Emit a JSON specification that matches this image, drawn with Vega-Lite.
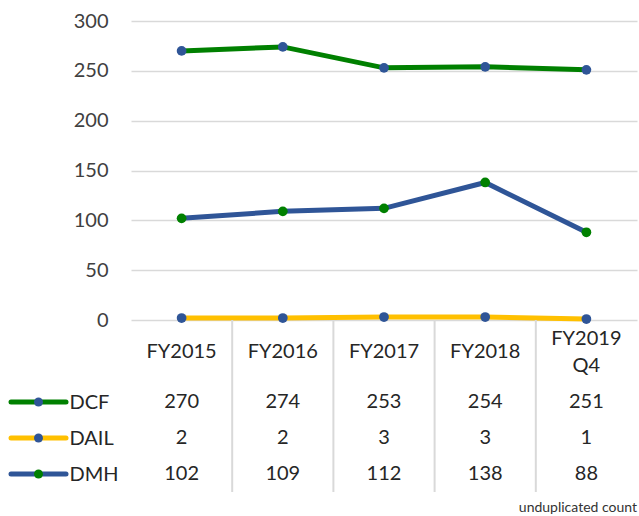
{
  "$schema": "https://vega.github.io/schema/vega-lite/v6.json",
  "padding": {"left": 8, "top": 11, "right": 3, "bottom": 2},
  "autosize": {"type": "pad"},
  "background": "white",
  "config": {"view": {"stroke": null}, "font": "Lato", "text": {"font": "Lato"}},
  "datasets": {
    "vals": [
      {"year": "FY2015", "series": "DCF", "value": 270},
      {"year": "FY2016", "series": "DCF", "value": 274},
      {"year": "FY2017", "series": "DCF", "value": 253},
      {"year": "FY2018", "series": "DCF", "value": 254},
      {"year": "FY2019 Q4", "series": "DCF", "value": 251},
      {"year": "FY2015", "series": "DAIL", "value": 2},
      {"year": "FY2016", "series": "DAIL", "value": 2},
      {"year": "FY2017", "series": "DAIL", "value": 3},
      {"year": "FY2018", "series": "DAIL", "value": 3},
      {"year": "FY2019 Q4", "series": "DAIL", "value": 1},
      {"year": "FY2015", "series": "DMH", "value": 102},
      {"year": "FY2016", "series": "DMH", "value": 109},
      {"year": "FY2017", "series": "DMH", "value": 112},
      {"year": "FY2018", "series": "DMH", "value": 138},
      {"year": "FY2019 Q4", "series": "DMH", "value": 88}
    ]
  },
  "title": {"text": "unduplicated count", "orient": "bottom", "anchor": "end", "fontSize": 14, "fontWeight": "normal", "font": "Lato", "color": "#333333", "offset": 8},
  "bounds": "flush",
  "align": "each",
  "columns": 2,
  "spacing": {"row": 0, "column": 65},
  "concat": [
    {"width": 55, "height": 10, "data": {"values": []}, "mark": "point"},
    {
      "width": 506, "height": 299,
      "data": {"name": "vals"},
      "encoding": {
        "x": {"field": "year", "type": "nominal", "scale": {"type": "point", "padding": 0.5, "domain": ["FY2015", "FY2016", "FY2017", "FY2018", "FY2019 Q4"]}, "axis": null},
        "y": {"field": "value", "type": "quantitative", "scale": {"domain": [0, 300], "nice": false, "zero": true},
              "axis": {"values": [0, 50, 100, 150, 200, 250, 300], "grid": true, "gridColor": "#d9d9d9", "gridWidth": 1.3, "domain": false, "ticks": false, "labelFontSize": 20, "labelColor": "#404040", "labelPadding": 23, "title": null, "labelFont": "Lato"}}
      },
      "layer": [
        {"mark": {"type": "line", "strokeWidth": 5},
         "encoding": {"color": {"field": "series", "type": "nominal", "scale": {"domain": ["DCF", "DAIL", "DMH"], "range": ["#008000", "#FFC000", "#2F5597"]}, "legend": null}}},
        {"mark": {"type": "point", "filled": true, "size": 95, "opacity": 1},
         "encoding": {"fill": {"field": "series", "type": "nominal", "scale": {"domain": ["DCF", "DAIL", "DMH"], "range": ["#2F5597", "#2F5597", "#008000"]}, "legend": null}}}
      ]
    },
    {"width": 55, "height": 10, "data": {"values": []}, "mark": "point"},
    {
      "width": 506, "height": 64,
      "data": {"name": "vals"},
      "transform": [{"filter": "datum.series === 'DCF'"}],
      "encoding": {
        "x": {"field": "year", "type": "nominal", "scale": {"type": "band", "padding": 0, "domain": ["FY2015", "FY2016", "FY2017", "FY2018", "FY2019 Q4"]}, "axis": null}
      },
      "layer": [
        {"transform": [{"filter": "datum.year !== 'FY2015'"}],
         "mark": {"type": "rule", "color": "#d9d9d9", "strokeWidth": 2},
         "encoding": {"x": {"field": "year", "type": "nominal", "bandPosition": 0}}},
        {"transform": [{"filter": "datum.year !== 'FY2019 Q4'"}],
         "mark": {"type": "text", "fontSize": 20, "color": "#262626", "baseline": "middle", "font": "Lato"},
         "encoding": {"text": {"field": "year"}}},
        {"transform": [{"filter": "datum.year === 'FY2019 Q4'"}],
         "mark": {"type": "text", "fontSize": 20, "color": "#262626", "lineBreak": " ", "lineHeight": 27, "baseline": "middle", "dy": -13.5, "font": "Lato"},
         "encoding": {"text": {"field": "year"}}}
      ]
    },
    {
      "width": 55, "height": 108,
      "data": {"name": "vals"},
      "transform": [{"filter": "datum.year === 'FY2015'"}],
      "encoding": {
        "y": {"field": "series", "type": "nominal", "scale": {"type": "point", "padding": 0.5, "domain": ["DCF", "DAIL", "DMH"]}, "axis": null}
      },
      "layer": [
        {"mark": {"type": "rule", "strokeWidth": 5, "strokeCap": "round"},
         "encoding": {"color": {"field": "series", "type": "nominal", "scale": {"domain": ["DCF", "DAIL", "DMH"], "range": ["#008000", "#FFC000", "#2F5597"]}, "legend": null}}},
        {"mark": {"type": "point", "filled": true, "size": 80, "opacity": 1},
         "encoding": {"fill": {"field": "series", "type": "nominal", "scale": {"domain": ["DCF", "DAIL", "DMH"], "range": ["#2F5597", "#2F5597", "#008000"]}, "legend": null}}}
      ]
    },
    {
      "width": 506, "height": 108,
      "data": {"name": "vals"},
      "encoding": {
        "x": {"field": "year", "type": "nominal", "scale": {"type": "band", "padding": 0, "domain": ["FY2015", "FY2016", "FY2017", "FY2018", "FY2019 Q4"]}, "axis": null}
      },
      "layer": [
        {"transform": [{"filter": "datum.year !== 'FY2015' && datum.series === 'DCF'"}],
         "mark": {"type": "rule", "color": "#d9d9d9", "strokeWidth": 2},
         "encoding": {"x": {"field": "year", "type": "nominal", "bandPosition": 0}}},
        {"mark": {"type": "text", "fontSize": 20, "color": "#262626", "baseline": "middle", "font": "Lato"},
         "encoding": {
           "y": {"field": "series", "type": "nominal", "scale": {"type": "point", "padding": 0.5, "domain": ["DCF", "DAIL", "DMH"]},
                 "axis": {"title": null, "domain": false, "ticks": false, "labelAlign": "left", "labelPadding": 62, "labelFontSize": 20, "labelColor": "#262626", "labelFont": "Lato"}},
           "text": {"field": "value", "type": "quantitative"}}}
      ]
    }
  ]
}
